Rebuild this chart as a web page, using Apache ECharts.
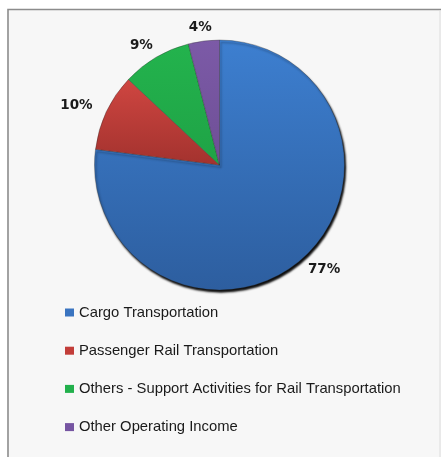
<!DOCTYPE html>
<html>
<head>
<meta charset="utf-8">
<script src="https://cdn.jsdelivr.net/npm/echarts@6/dist/echarts.min.js"></script>
<style>
  html, body { margin: 0; padding: 0; background: #ffffff; }
  #chart { width: 441px; height: 457px; }
</style>
</head>
<body>
<div id="chart"></div>
<script>
// ---- data ----
const categories = [
  'Cargo Transportation',
  'Passenger Rail Transportation',
  'Others - Support Activities for Rail Transportation',
  'Other Operating Income'
];
const shares = [77, 10, 9, 4];
const topColors = ['#3d7fd0', '#cf4641', '#23b34d', '#7c5aa7'];
const bottomColors = ['#2d5e9f', '#a3322e', '#1fa346', '#6e4f96'];
const legendColors = ['#3a74c0', '#c23d39', '#22b04c', '#7655a2'];

// ---- layout constants ----
const CX = 219.5, CY = 165, RADIUS = 125;
const LABEL_RX = RADIUS + 17, LABEL_RY = RADIUS + 7;

const total = shares.reduce((a, b) => a + b, 0);

const chart = echarts.init(document.getElementById('chart'), null, { renderer: 'canvas' });

const seriesData = categories.map((name, i) => {
  const item = {
    name: name,
    value: shares[i],
    itemStyle: {
      color: {
        type: 'linear', x: 0, y: 0, x2: 0, y2: 1,
        colorStops: [
          { offset: 0, color: topColors[i] },
          { offset: 1, color: bottomColors[i] }
        ]
      }
    }
  };
  if (i === 0) {
    item.itemStyle.shadowColor = 'rgba(0,0,0,0.95)';
    item.itemStyle.shadowBlur = 2;
    item.itemStyle.shadowOffsetX = 1.5;
    item.itemStyle.shadowOffsetY = 2.5;
  }
  return item;
});

chart.setOption({
  backgroundColor: '#ffffff',
  animation: false,
  graphic: [{
    type: 'rect',
    z: -10,
    shape: { x: 8, y: 9.5, width: 460, height: 470 },
    style: { fill: '#f7f7f7', stroke: '#8c8c8c', lineWidth: 1.6 }
  }, {
    type: 'line',
    z: -9,
    shape: { x1: 440, y1: 10.5, x2: 440, y2: 457 },
    style: { stroke: '#dcdcdc', lineWidth: 1 }
  }],
  legend: {
    orient: 'vertical',
    left: 65,
    top: 305,
    itemWidth: 9,
    itemHeight: 8,
    itemGap: 23.2,
    icon: 'rect',
    padding: 0,
    itemStyle: { borderWidth: 0 },
    textStyle: {
      fontFamily: 'Liberation Sans, Arial, sans-serif',
      fontSize: 14.8,
      color: '#1a1a1a'
    },
    data: categories.map((name, i) => ({ name: name, itemStyle: { color: legendColors[i], borderWidth: 0 } }))
  },
  series: [{
    type: 'pie',
    center: [CX, CY],
    radius: [0, RADIUS],
    startAngle: 90,
    clockwise: true,
    avoidLabelOverlap: false,
    data: seriesData,
    itemStyle: {
      borderColor: 'rgba(40,40,40,0.55)',
      borderWidth: 0.6
    },
    label: {
      show: true,
      position: 'outside',
      formatter: '{c}%',
      fontFamily: 'DejaVu Sans, sans-serif',
      fontWeight: 'bold',
      fontSize: 13.5,
      color: '#1a1a1a'
    },
    labelLine: { show: false },
    labelLayout: function (p) {
      const i = p.dataIndex;
      let before = 0;
      for (let k = 0; k < i; k++) before += shares[k];
      const mid = (before + shares[i] / 2) / total * Math.PI * 2;
      const ux = Math.sin(mid), uy = -Math.cos(mid);
      const w = p.labelRect.width, h = p.labelRect.height;
      return {
        x: CX + LABEL_RX * ux + ux * w / 2,
        y: CY + LABEL_RY * uy + uy * h / 2,
        align: 'center',
        verticalAlign: 'middle'
      };
    },
    emphasis: { disabled: true }
  }]
});
</script>
</body>
</html>
